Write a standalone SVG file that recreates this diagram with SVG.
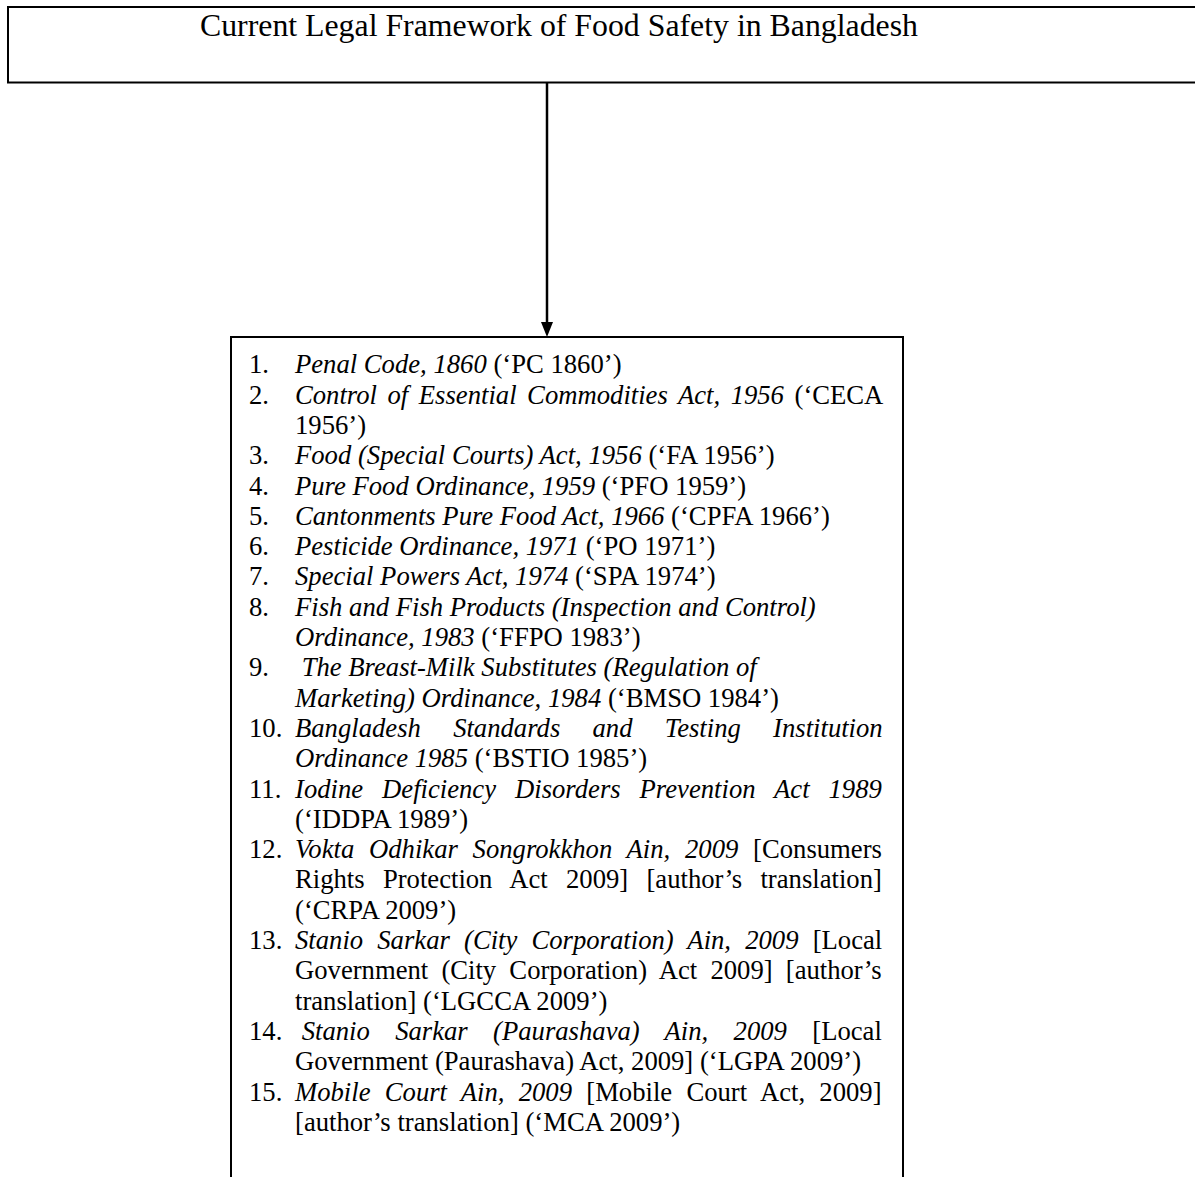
<svg xmlns="http://www.w3.org/2000/svg" width="1195" height="1177" viewBox="0 0 1195 1177">
<defs>
<style>
.box{fill:#fff;stroke:#000;stroke-width:2}
.t{font-family:"Liberation Serif","Times New Roman",serif;fill:#000}
.title{font-size:31.8px}
.li{font-size:26.67px}
.i{font-style:italic}
</style>
</defs>
<rect width="1195" height="1177" fill="#fff"/>
<g id="node-title">
<rect class="box" x="8" y="7" width="1200" height="75.5"/>
<text class="t title" x="200" y="36">Current Legal Framework of Food Safety in Bangladesh</text>
</g>
<g id="connectors">
<line x1="547" y1="83" x2="547" y2="322" stroke="#000" stroke-width="2.5"/>
<path d="M541,322 L553,322 L547,337 Z" fill="#000"/>
</g>
<g id="node-list">
<path class="box" d="M231,1180 L231,337 L903,337 L903,1180" fill="none"/>
<g class="t li">
<text x="249" y="373.3">1.</text><text x="295" y="373.3"><tspan class="i">Penal Code, 1860</tspan> (‘PC 1860’)</text>
<text x="249" y="403.6">2.</text><text x="295" y="403.6" word-spacing="3.9"><tspan class="i">Control of Essential Commodities Act, 1956</tspan> (‘CECA</text>
<text x="295" y="433.9">1956’)</text>
<text x="249" y="464.2">3.</text><text x="295" y="464.2"><tspan class="i">Food (Special Courts) Act, 1956</tspan> (‘FA 1956’)</text>
<text x="249" y="494.5">4.</text><text x="295" y="494.5"><tspan class="i">Pure Food Ordinance, 1959</tspan> (‘PFO 1959’)</text>
<text x="249" y="524.8">5.</text><text x="295" y="524.8"><tspan class="i">Cantonments Pure Food Act, 1966</tspan> (‘CPFA 1966’)</text>
<text x="249" y="555.1">6.</text><text x="295" y="555.1"><tspan class="i">Pesticide Ordinance, 1971</tspan> (‘PO 1971’)</text>
<text x="249" y="585.4">7.</text><text x="295" y="585.4"><tspan class="i">Special Powers Act, 1974</tspan> (‘SPA 1974’)</text>
<text x="249" y="615.7">8.</text><text x="295" y="615.7" class="i">Fish and Fish Products (Inspection and Control)</text>
<text x="295" y="646"><tspan class="i">Ordinance, 1983</tspan> (‘FFPO 1983’)</text>
<text x="249" y="676.3">9.</text><text x="301.7" y="676.3" class="i">The Breast-Milk Substitutes (Regulation of</text>
<text x="295" y="706.6"><tspan class="i">Marketing) Ordinance, 1984</tspan> (‘BMSO 1984’)</text>
<text x="249" y="736.9">10.</text><text x="295" y="736.9" class="i" word-spacing="25.6">Bangladesh Standards and Testing Institution</text>
<text x="295" y="767.2"><tspan class="i">Ordinance 1985</tspan> (‘BSTIO 1985’)</text>
<text x="249" y="797.5">11.</text><text x="295" y="797.5" class="i" word-spacing="12.3">Iodine Deficiency Disorders Prevention Act 1989</text>
<text x="295" y="827.8">(‘IDDPA 1989’)</text>
<text x="249" y="858.1">12.</text><text x="295" y="858.1" word-spacing="8.1"><tspan class="i">Vokta Odhikar Songrokkhon Ain, 2009</tspan> [Consumers</text>
<text x="295" y="888.4" word-spacing="11.6">Rights Protection Act 2009] [author’s translation]</text>
<text x="295" y="918.7">(‘CRPA 2009’)</text>
<text x="249" y="949">13.</text><text x="295" y="949" word-spacing="7.5"><tspan class="i">Stanio Sarkar (City Corporation) Ain, 2009</tspan> [Local</text>
<text x="295" y="979.3" word-spacing="6.5">Government (City Corporation) Act 2009] [author’s</text>
<text x="295" y="1009.6">translation] (‘LGCCA 2009’)</text>
<text x="249" y="1039.9">14.</text><text x="301.7" y="1039.9" word-spacing="18.7"><tspan class="i">Stanio Sarkar (Paurashava) Ain, 2009</tspan> [Local</text>
<text x="295" y="1070.2">Government (Paurashava) Act, 2009] (‘LGPA 2009’)</text>
<text x="249" y="1100.5">15.</text><text x="295" y="1100.5" word-spacing="7.6"><tspan class="i">Mobile Court Ain, 2009</tspan> [Mobile Court Act, 2009]</text>
<text x="295" y="1130.8">[author’s translation] (‘MCA 2009’)</text>
</g>
</g>
</svg>
